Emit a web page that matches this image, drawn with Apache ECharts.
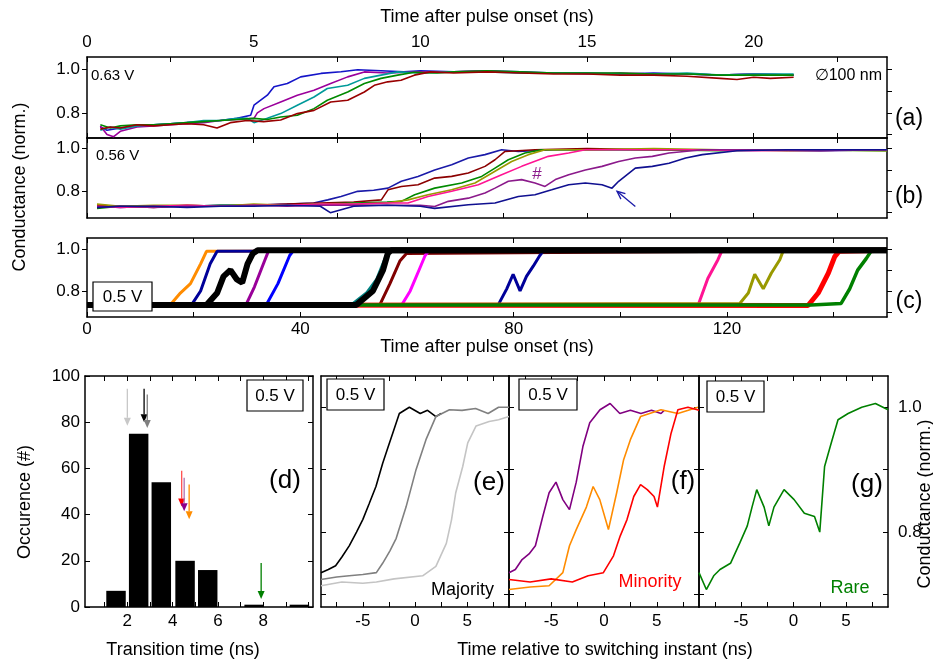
<!DOCTYPE html>
<html><head><meta charset="utf-8">
<script src="https://cdn.jsdelivr.net/npm/echarts@6/dist/echarts.min.js"></script>
<style>html,body{margin:0;padding:0;background:#fff}#c{width:933px;height:666px}</style>
</head><body><div id="c"></div>
<script>
// ================= DATA =================
// Panel (a) 0.63 V : [time ns, conductance norm.]
const aBlue=[[0.4,0.735],[0.6,0.72],[1,0.73],[1.5,0.74],[2,0.745],[2.5,0.75],[3,0.755],[3.5,0.76],[4,0.765],[4.5,0.775],[4.91,0.789],[5.01,0.836],[5.21,0.859],[5.41,0.882],[5.61,0.921],[6.01,0.936],[6.41,0.967],[7.02,0.983],[7.62,0.991],[8.12,1.0],[8.82,0.995],[9.5,0.99],[10,0.995],[11,0.99],[12,0.995],[13,0.99],[14,0.985],[15,0.985],[16,0.98],[17,0.985],[18,0.98],[19,0.975],[20,0.98],[21.2,0.975]];
const aPurple=[[0.4,0.74],[0.6,0.70],[0.8,0.69],[1.0,0.715],[1.5,0.735],[2,0.74],[2.5,0.745],[3,0.75],[3.5,0.755],[4,0.765],[4.5,0.77],[5.01,0.775],[5.11,0.80],[5.31,0.82],[5.81,0.851],[6.31,0.882],[6.81,0.905],[7.31,0.936],[7.82,0.967],[8.32,0.99],[9,0.985],[10,0.99],[11,0.99],[12,0.995],[13,0.985],[14,0.985],[15,0.98],[16,0.985],[17,0.98],[18,0.98],[19,0.975],[20,0.98],[21.2,0.975]];
const aTeal=[[0.4,0.72],[0.7,0.735],[1,0.725],[1.5,0.74],[2,0.745],[2.5,0.75],[3,0.755],[3.5,0.765],[4,0.765],[4.5,0.775],[4.81,0.775],[5.01,0.755],[5.41,0.775],[5.81,0.797],[6.31,0.836],[6.81,0.874],[7.21,0.913],[7.82,0.928],[8.32,0.96],[8.82,0.975],[9.32,0.99],[10,0.985],[11,0.99],[12,0.99],[13,0.985],[14,0.985],[15,0.985],[16,0.98],[17,0.98],[18,0.985],[19,0.975],[20,0.98],[21.2,0.98]];
const aGreen=[[0.4,0.745],[0.7,0.73],[1,0.74],[1.5,0.745],[2,0.745],[2.5,0.75],[3,0.755],[3.5,0.76],[4,0.765],[4.5,0.77],[5,0.775],[5.41,0.77],[5.81,0.781],[6.31,0.789],[6.81,0.82],[7.21,0.859],[7.82,0.897],[8.32,0.936],[8.82,0.96],[9.32,0.975],[9.82,0.988],[10.5,0.985],[11,0.99],[12,0.995],[13,0.99],[14,0.985],[15,0.985],[16,0.985],[17,0.98],[18,0.98],[19,0.975],[20,0.975],[21.2,0.975]];
const aDarkRed=[[0.4,0.725],[0.7,0.735],[1,0.73],[1.5,0.745],[2,0.74],[2.5,0.745],[3,0.75],[3.5,0.745],[3.9,0.73],[4.3,0.755],[4.8,0.765],[5.3,0.76],[5.81,0.767],[6.31,0.797],[6.81,0.812],[7.31,0.851],[7.82,0.859],[8.32,0.897],[8.62,0.928],[9.02,0.944],[9.42,0.951],[9.82,0.975],[10.3,0.99],[11,0.985],[12,0.99],[13,0.985],[14,0.98],[15,0.98],[16,0.975],[17,0.975],[18,0.97],[19,0.96],[19.5,0.955],[20,0.965],[20.5,0.96],[21.2,0.965]];

// Panel (b) 0.56 V
const bNavy1=[[0.3,0.73],[1,0.725],[2,0.73],[3,0.73],[4,0.735],[5,0.735],[6,0.74],[6.8,0.745],[7.22,0.76],[7.62,0.776],[8.12,0.80],[8.6,0.805],[9.03,0.815],[9.43,0.847],[9.93,0.87],[10.43,0.90],[10.94,0.925],[11.44,0.956],[11.94,0.972],[12.44,0.995],[12.94,0.987],[14,0.995],[16,0.995],[18,0.995],[20,0.995],[22,0.99],[24,0.995]];
const bDarkRed=[[0.3,0.735],[1,0.73],[2,0.725],[3,0.735],[4,0.73],[5,0.735],[6,0.74],[7,0.745],[8,0.75],[8.83,0.76],[9.03,0.807],[9.43,0.823],[9.93,0.831],[10.43,0.862],[10.94,0.87],[11.44,0.886],[11.94,0.917],[12.24,0.948],[12.54,0.987],[13.44,0.995],[15,1.0],[17,0.995],[19,0.995],[21,0.99],[24,0.995]];
const bGreen=[[0.3,0.72],[1,0.73],[2,0.73],[3,0.73],[4,0.735],[5,0.735],[6,0.735],[7,0.74],[8,0.745],[9,0.75],[9.43,0.753],[9.83,0.784],[10.43,0.815],[11.24,0.839],[11.84,0.87],[12.24,0.909],[12.64,0.948],[13.14,0.98],[13.64,0.995],[15,0.995],[17,0.995],[19,0.99],[21,0.995],[24,0.99]];
const bOlive=[[0.3,0.74],[1,0.73],[2,0.735],[3,0.735],[4,0.73],[5,0.74],[6,0.735],[7,0.74],[8,0.74],[9,0.745],[9.63,0.76],[10.23,0.784],[10.94,0.807],[11.64,0.839],[12.24,0.894],[12.74,0.94],[13.24,0.972],[13.74,0.995],[15,0.995],[17,1.0],[19,0.995],[21,0.995],[24,0.99]];
const bPink=[[0.3,0.73],[1,0.725],[2,0.73],[3,0.735],[4,0.73],[5,0.735],[6,0.735],[7,0.74],[8,0.74],[9,0.745],[9.63,0.745],[10.23,0.776],[10.94,0.80],[11.74,0.831],[12.44,0.878],[13.04,0.917],[13.84,0.964],[14.45,0.98],[14.95,0.995],[16,0.995],[18,0.995],[20,0.99],[22,0.995],[24,0.995]];
const bPurple=[[0.3,0.725],[1,0.73],[2,0.725],[3,0.73],[4,0.73],[5,0.735],[6,0.73],[7,0.735],[8,0.735],[9,0.735],[10,0.735],[10.43,0.729],[10.84,0.753],[11.44,0.768],[11.94,0.792],[12.24,0.815],[12.64,0.847],[13.04,0.855],[13.44,0.839],[13.74,0.823],[14.05,0.855],[14.45,0.878],[14.95,0.90],[15.45,0.917],[15.95,0.94],[16.45,0.956],[16.96,0.964],[17.46,0.98],[18.46,0.995],[20,0.995],[22,0.99],[24,0.995]];
const bNavy2=[[0.3,0.725],[1,0.73],[2,0.73],[3,0.725],[4,0.73],[5,0.73],[6,0.735],[7,0.73],[7.3,0.70],[8,0.73],[9,0.735],[10,0.73],[10.43,0.72],[11.44,0.737],[12.24,0.745],[12.94,0.776],[13.44,0.784],[13.94,0.807],[14.45,0.831],[14.95,0.839],[15.45,0.831],[15.75,0.815],[15.95,0.847],[16.45,0.909],[16.96,0.917],[17.46,0.932],[17.96,0.956],[18.46,0.972],[19.5,0.99],[21,0.995],[24,0.995]];
const bArrow=[[16.45,0.729,15.9,0.80]]; // tail x,y -> tip x,y

// Panel (c) 0.5 V
const cOrange=[[0,0.733],[15.6,0.733],[17.5,0.79],[19.4,0.835],[21.3,0.93],[22.4,0.99],[150,0.995]];
const cNavy1=[[0,0.733],[19.6,0.733],[21.3,0.80],[23.1,0.93],[24.4,0.99],[150,0.995]];
const cPurple=[[0,0.733],[29.8,0.733],[31.4,0.82],[33.3,0.945],[34,0.99],[150,0.995]];
const cBlue=[[0,0.733],[33.6,0.733],[35.8,0.835],[38.0,0.97],[38.6,0.99],[150,0.995]];
const cTeal=[[0,0.74],[49.9,0.74],[52.4,0.79],[54.3,0.855],[56.1,0.97],[56.8,0.99],[150,0.995]];
const cDarkRed=[[0,0.733],[54.9,0.733],[56.8,0.835],[58.7,0.945],[59.9,0.98],[150,0.995]];
const cMagenta=[[0,0.733],[59.0,0.733],[60.6,0.80],[62.5,0.915],[63.4,0.97],[64,0.99],[150,0.995]];
const cNavy2=[[0,0.733],[77.1,0.733],[78.7,0.81],[79.9,0.88],[81.2,0.80],[82.4,0.87],[83.7,0.92],[84.9,0.97],[85.5,0.99],[150,0.995]];
const cPink=[[0,0.733],[114.6,0.733],[116.4,0.86],[118.3,0.95],[119,0.99],[150,0.995]];
const cOlive=[[0,0.733],[122.4,0.74],[124.0,0.79],[125.2,0.88],[126.8,0.81],[128.3,0.885],[129.9,0.95],[130.5,0.99],[150,0.995]];
const cRed=[[0,0.733],[135.2,0.73],[137.1,0.79],[139.0,0.885],[140.2,0.965],[141,0.99],[150,0.995]];
const cGreen=[[0,0.733],[135.8,0.733],[141.4,0.74],[143.0,0.81],[144.5,0.90],[146.1,0.955],[147,0.99],[150,0.995]];
const cBlack1=[[0,0.733],[22.4,0.733],[24.4,0.79],[25.6,0.87],[26.9,0.90],[28.1,0.855],[29.1,0.84],[30.1,0.93],[31.1,0.98],[32,0.995],[150,0.995]];
const cBlack2=[[0,0.733],[50.5,0.733],[53.6,0.80],[55.5,0.90],[56.4,0.98],[57,0.995],[150,0.995]];

// Panel (d) histogram of transition times
const histCenters=[1.5,2.5,3.5,4.55,5.55,7.6,9.6];
const histCounts=[7,75,54,20,16,1,1];
// arrows: x, top, tip
const dArrows=[[2.0,94.5,2.0,78.5],[2.74,94.5,2.74,80],[2.88,92,2.88,77.5],[4.4,59,4.4,43.5],[4.51,56,4.51,41.5],[4.73,53,4.73,38],[7.91,19,7.91,3.5]];

// Panel (e) majority
const eBlack=[[-9.0,0.735],[-8.3,0.74],[-7.6,0.746],[-7,0.76],[-6.3,0.778],[-5.6,0.80],[-5.0,0.82],[-4.4,0.845],[-3.74,0.873],[-3.1,0.91],[-2.6,0.935],[-2.14,0.958],[-1.5,0.99],[-0.54,1.0],[0.5,0.99],[1.2,0.995],[2.0,0.985],[2.5,0.99]];
const eGray=[[-9.0,0.724],[-7.5,0.728],[-6.3,0.73],[-5,0.732],[-3.7,0.735],[-3.1,0.75],[-2.4,0.77],[-1.8,0.79],[-0.86,0.84],[0.1,0.90],[1.05,0.948],[2.0,0.985],[3.3,0.996],[4.5,0.995],[5.8,0.998],[7,0.99],[8,1.0],[9.0,1.0]];
const eLight=[[-9.0,0.714],[-7,0.72],[-5,0.718],[-3.7,0.72],[-2,0.725],[0.73,0.73],[2.0,0.745],[3.0,0.782],[3.5,0.82],[3.9,0.863],[4.57,0.905],[5.05,0.943],[5.85,0.97],[7.1,0.977],[8,0.98],[9.0,0.985]];
// Panel (f) minority
const fPurple=[[-9.0,0.735],[-8.4,0.74],[-7.76,0.756],[-7.1,0.765],[-6.5,0.778],[-5.8,0.825],[-5.2,0.863],[-4.55,0.88],[-3.9,0.852],[-3.27,0.836],[-2.63,0.88],[-2.0,0.937],[-1.35,0.975],[-0.38,0.996],[0.58,1.006],[1.5,0.99],[2.5,0.995],[3.5,0.99],[4.5,0.995],[5.4,0.99],[5.7,0.995]];
const fOrange=[[-9.0,0.708],[-7,0.712],[-5.2,0.714],[-3.9,0.735],[-3.27,0.778],[-2.63,0.804],[-1.67,0.84],[-1.03,0.873],[-0.4,0.852],[0.42,0.804],[1.2,0.863],[1.86,0.916],[2.5,0.948],[3.46,0.985],[5.4,0.996],[7,0.99],[8.9,1.0]];
const fRed=[[-9.0,0.724],[-7,0.72],[-5,0.725],[-3,0.72],[-1.5,0.73],[-0.06,0.735],[0.9,0.762],[1.54,0.794],[2.18,0.82],[2.82,0.857],[3.46,0.876],[4.1,0.868],[4.74,0.857],[5.06,0.84],[5.7,0.905],[6.35,0.958],[7.0,0.996],[7.95,1.0],[9.0,0.995]];
// Panel (g) rare
const gGreen=[[-9.0,0.735],[-8.3,0.708],[-7.6,0.73],[-7.0,0.74],[-6.0,0.75],[-5.1,0.783],[-4.4,0.81],[-3.95,0.84],[-3.5,0.868],[-2.8,0.84],[-2.35,0.81],[-1.86,0.84],[-0.9,0.868],[0.06,0.852],[1.03,0.83],[2.0,0.825],[2.5,0.80],[2.96,0.905],[3.6,0.943],[4.24,0.98],[5.2,0.99],[6.5,1.0],[7.8,1.006],[9.0,0.996]];

// tick values / labels
const abTicks=[0,2.5,5,7.5,10,12.5,15,17.5,20,22.5], abLabels=[0,5,10,15,20];
const cTicks=[0,20,40,60,80,100,120,140], cLabels=[0,40,80,120];
const condTicks=[0.7,0.8,0.9,1.0], condLabels=[0.8,1.0];
const dXTicks=[1,2,3,4,5,6,7,8,9,10], dXLabels=[2,4,6,8];
const dYTicks=[0,20,40,60,80,100], dYLabels=[0,20,40,60,80,100];
const relTicks=[-7.5,-5,-2.5,0,2.5,5,7.5], relLabels=[-5,0,5];

// ================= CHART =================
const FONT='Liberation Sans';
const grids=[], xAxes=[], yAxes=[], series=[], graphics=[];
function axis(dim,gi,pos,range,ticks,labels,fmt,margin,tickOut){
  const a={type:'value',gridIndex:gi,position:pos,min:range[0],max:range[1],
    splitLine:{show:false},splitArea:{show:false},axisPointer:{show:false},silent:true,
    axisLine:{show:true,onZero:false,lineStyle:{color:'#000',width:1.5}},
    axisTick:{show:true,inside:!tickOut,length:5,customValues:ticks,lineStyle:{color:'#000',width:1}},
    axisLabel:labels?{show:true,customValues:labels,formatter:fmt,margin:margin,color:'#000',fontSize:17,fontFamily:FONT}:{show:false}};
  const arr=dim==='x'?xAxes:yAxes; arr.push(a); return arr.length-1;
}
function grid(l,t,w,h){grids.push({left:l,top:t,width:w,height:h,outerBoundsMode:'none',containLabel:false});return grids.length-1;}
function line(xi,yi,data,color,width){
  series.push({type:'line',xAxisIndex:xi,yAxisIndex:yi,data:data,showSymbol:false,symbol:'none',silent:true,
    lineStyle:{color:color,width:width},z:2,animation:false});
}
const f1=v=>v.toFixed(1), fi=v=>String(Math.round(v));

// (a)
const gA=grid(87,57,800,81);
const xA=axis('x',gA,'top',[0,24],abTicks,abLabels,fi,6);
axis('x',gA,'bottom',[0,24],abTicks,null);
const yA=axis('y',gA,'left',[0.684,1.059],[0.8,1.0],condLabels,f1,7,true);
axis('y',gA,'right',[0.684,1.059],condTicks,null,null,0,true);
[[aBlue,'#1414c8'],[aPurple,'#9b009b'],[aTeal,'#009a9a'],[aGreen,'#008a00'],[aDarkRed,'#990000']].forEach(s=>line(xA,yA,s[0],s[1],1.6));
// (b)
const gB=grid(87,138,800,80);
const xB=axis('x',gB,'bottom',[0,24],abTicks,null);
axis('x',gB,'top',[0,24],abTicks,null);
const yB=axis('y',gB,'left',[0.675,1.05],[0.8,1.0],condLabels,f1,7,true);
axis('y',gB,'right',[0.675,1.05],condTicks,null,null,0,true);
[[bNavy1,'#1a1aa8'],[bDarkRed,'#8b0000'],[bGreen,'#008a00'],[bOlive,'#9a9a00'],[bPink,'#ff1493'],[bPurple,'#8b1a8b'],[bNavy2,'#101090']].forEach(s=>line(xB,yB,s[0],s[1],1.6));
// (c)
const gC=grid(87,238,800,79);
const xC=axis('x',gC,'bottom',[0,150],cTicks,cLabels,fi,4);
axis('x',gC,'top',[0,150],cTicks,null);
const yC=axis('y',gC,'left',[0.675,1.054],[0.8,1.0],condLabels,f1,7,true);
axis('y',gC,'right',[0.675,1.054],condTicks,null,null,0,true);
[[cOrange,'#ff8c00',3],[cNavy1,'#000099',3],[cPurple,'#990099',3],[cBlue,'#0000ff',3],[cTeal,'#008080',3],[cDarkRed,'#800000',3],[cMagenta,'#ff00ff',3],[cNavy2,'#000099',3],[cPink,'#ff1493',3],[cOlive,'#999900',3],[cRed,'#ff0000',5],[cGreen,'#008000',3.5],[cBlack1,'#000000',6],[cBlack2,'#000000',6]].forEach(s=>line(xC,yC,s[0],s[1],s[2]));

// (d)
const gD=grid(85,376,228,231);
const xD=axis('x',gD,'bottom',[0.13,10.2],dXTicks,dXLabels,fi,6);
axis('x',gD,'top',[0.13,10.2],dXTicks,null);
const yD=axis('y',gD,'left',[0,100],dYTicks,dYLabels,fi,5);
axis('y',gD,'right',[0,100],dYTicks,null);
series.push({type:'custom',xAxisIndex:xD,yAxisIndex:yD,silent:true,animation:false,z:2,
  data:histCenters.map((c,i)=>[c,histCounts[i]]),encode:{x:0,y:1},
  renderItem:(p,api)=>{const c=api.value(0),n=api.value(1);const a=api.coord([c-0.43,n]),b=api.coord([c+0.43,0]);
    return {type:'rect',shape:{x:a[0],y:a[1],width:b[0]-a[0],height:b[1]-a[1]},style:{fill:'#000'}};}});
function arrowSeries(xi,yi,data,colors,headColors,open){
  series.push({type:'custom',xAxisIndex:xi,yAxisIndex:yi,silent:true,animation:false,z:5,data:data,encode:{x:[0,2],y:[1,3]},
    renderItem:(p,api)=>{const a=api.coord([api.value(0),api.value(1)]),b=api.coord([api.value(2),api.value(3)]);
      const dx=b[0]-a[0],dy=b[1]-a[1],L=Math.hypot(dx,dy),ux=dx/L,uy=dy/L,hl=8,hw=3.5;
      const bx=b[0]-ux*hl,by=b[1]-uy*hl;const p1=[bx-uy*hw,by+ux*hw],p2=[bx+uy*hw,by-ux*hw];
      const col=colors[p.dataIndex],hc=headColors[p.dataIndex];
      const ch=[{type:'line',shape:{x1:a[0],y1:a[1],x2:open?b[0]:bx,y2:open?b[1]:by},style:{stroke:col,lineWidth:1.3}}];
      if(open) ch.push({type:'polyline',shape:{points:[p1,b,p2]},style:{stroke:hc,fill:null,lineWidth:1.3}});
      else ch.push({type:'polygon',shape:{points:[p1,b,p2]},style:{fill:hc}});
      return {type:'group',children:ch};}});
}
arrowSeries(xD,yD,dArrows,['#c8c8c8','#000000','#808080','#ff5050','#b070b0','#ff8c00','#008000'],['#c8c8c8','#000000','#808080','#ff0000','#8b008b','#ff8c00','#008000'],false);
arrowSeries(xB,yB,bArrow,['#1a1aa8'],['#1a1aa8'],true);

// (e),(f),(g)
const relY=[0.68,1.05];
function relPanel(left,width,rightLabels){
  const g=grid(left,376,width,231);
  const xi=axis('x',g,'bottom',[-9,9],relTicks,relLabels,fi,6);
  axis('x',g,'top',[-9,9],relTicks,null);
  const yi=axis('y',g,'left',relY,condTicks,null);
  axis('y',g,'right',relY,condTicks,rightLabels?condLabels:null,f1,10);
  return [xi,yi];
}
const [xE,yE]=relPanel(321,188,false);
[[eBlack,'#000000'],[eGray,'#808080'],[eLight,'#c4c4c4']].forEach(s=>line(xE,yE,s[0],s[1],1.6));
const [xF,yF]=relPanel(509,190,false);
[[fPurple,'#800080'],[fOrange,'#ff8c00'],[fRed,'#ff0000']].forEach(s=>line(xF,yF,s[0],s[1],1.6));
const [xG,yG]=relPanel(699,189,true);
line(xG,yG,gGreen,'#008000',1.6);

// ---- text annotations ----
function txt(x,y,t,size,color,rot,align){
  graphics.push({type:'text',x:x,y:y,rotation:rot||0,z:100,silent:true,
    style:{text:t,x:0,y:0,fill:color||'#000',fontSize:size,fontFamily:FONT,
      align:align||'center',verticalAlign:'middle',textAlign:align||'center',textVerticalAlign:'middle'}});
}
function box(x,y,w,h,t){
  graphics.push({type:'rect',z:99,silent:true,shape:{x:x,y:y,width:w,height:h},style:{fill:'#fff',stroke:'#000',lineWidth:1.2}});
  txt(x+w/2,y+h/2+1,t,17);
}
txt(487,17,'Time after pulse onset (ns)',18);
txt(487,347,'Time after pulse onset (ns)',18);
txt(20,187,'Conductance (norm.)',18,'#000',Math.PI/2);
txt(25,502,'Occurence (#)',18,'#000',Math.PI/2);
txt(183,650,'Transition time (ns)',18);
txt(605,650,'Time relative to switching instant (ns)',18);
txt(925,504,'Conductance (norm.)',18,'#000',Math.PI/2);
txt(909,119,'(a)',23); txt(909,197,'(b)',23); txt(909,302,'(c)',23);
txt(285,481,'(d)',26); txt(489,483,'(e)',26); txt(683,482,'(f)',26); txt(867,485,'(g)',26);
txt(91,76,'0.63 V',15,'#000',0,'left');
txt(96,156,'0.56 V',15,'#000',0,'left');
txt(882,76,'\u2205100 nm',16,'#000',0,'right');
txt(537,174,'#',17,'#8b1a8b');
box(93,282,59,29,'0.5 V');
box(247,380,56,31,'0.5 V');
box(327,379,57,31,'0.5 V');
box(519,379,58,31,'0.5 V');
box(707,381,57,31,'0.5 V');
txt(494,590,'Majority',18,'#000',0,'right');
txt(650,582,'Minority',18,'#ff0000');
txt(850,588,'Rare',18,'#008000');

const chart=echarts.init(document.getElementById('c'),null,{renderer:'canvas'});
chart.setOption({animation:false,backgroundColor:'#fff',grid:grids,xAxis:xAxes,yAxis:yAxes,series:series,graphic:{elements:graphics}});
</script></body></html>
